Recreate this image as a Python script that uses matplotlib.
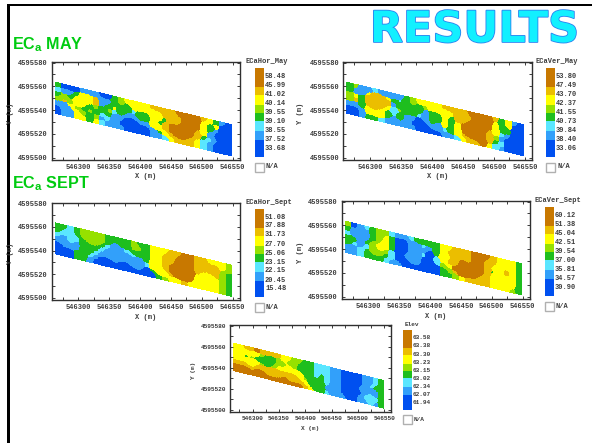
import numpy as np
import matplotlib
matplotlib.use("Agg")
import matplotlib.pyplot as plt
from matplotlib.colors import ListedColormap, BoundaryNorm
from matplotlib.patches import Rectangle
import matplotlib.patheffects as pe

W, H = 592, 443

class_colors = ["#0050f0", "#32a0fa", "#5ae6ff", "#1ebe1e", "#96e100", "#ffff00", "#ebbe00", "#c87800"]

# class index along the strip, top row first
ec_hor_may = [
    [3,0,0,0,1,1,1,0,0,3,4,5,5,5,5,6,6,6,6,7,7,7,7,6,5,3,1,0],
    [2,1,1,3,5,5,6,1,1,3,4,3,5,5,5,5,5,6,6,6,7,7,7,5,3,5,0,0],
    [3,4,3,5,6,5,6,1,3,5,3,3,2,3,3,5,5,3,6,6,7,7,7,5,3,1,0,0],
    [4,6,4,5,5,3,4,3,4,2,3,1,1,3,3,5,3,6,7,7,7,7,6,5,1,0,0,0],
    [1,1,5,4,3,4,3,2,3,1,1,0,0,1,1,5,5,6,7,7,7,7,6,3,2,1,0,0],
    [0,1,1,5,4,3,4,1,2,1,0,0,0,0,0,1,3,5,6,7,7,6,5,2,1,0,0,0],
    [0,1,1,5,5,3,5,2,1,1,1,0,0,0,0,1,1,2,5,6,6,6,5,2,1,0,0,0],
]
ec_ver_may = [
    [3,4,1,1,2,1,1,1,1,3,4,5,5,5,5,6,6,6,6,7,7,7,7,6,3,5,1,0],
    [3,1,1,5,6,6,5,3,2,3,4,3,4,5,5,5,5,6,6,6,7,7,7,5,3,5,0,0],
    [4,5,3,6,6,6,6,1,3,5,3,3,1,3,3,5,3,6,6,7,7,7,7,5,3,3,0,0],
    [4,6,3,6,6,6,5,2,4,3,3,2,1,3,3,5,3,5,7,7,7,7,6,5,2,1,0,0],
    [1,1,3,5,6,5,3,2,3,1,1,0,1,3,1,5,3,5,7,7,7,7,6,4,1,0,0,0],
    [0,0,1,5,5,5,3,1,3,1,0,0,0,1,1,2,3,5,6,7,7,7,6,3,2,0,0,0],
    [0,0,1,3,3,2,1,1,1,1,1,0,0,0,0,1,1,2,5,6,6,7,5,2,1,0,0,0],
]
ec_hor_sept = [
    [3,3,2,3,4,4,4,4,3,3,3,3,4,3,3,5,5,5,6,6,7,7,6,6,5,5,5,4],
    [3,2,2,3,4,4,4,4,3,1,3,3,4,4,3,5,5,6,6,7,7,7,6,6,6,6,5,4],
    [2,1,2,2,3,4,4,3,2,1,1,2,3,3,3,5,5,6,6,7,7,7,6,6,6,6,4,3],
    [1,1,2,1,3,3,3,2,1,1,2,1,2,1,3,5,5,6,7,7,7,7,6,5,5,6,4,3],
    [0,1,1,1,3,3,2,1,1,1,1,1,1,1,2,5,5,6,7,7,7,7,5,3,5,5,4,3],
    [0,0,0,3,3,2,1,0,0,1,0,0,1,1,0,3,5,5,6,7,7,7,5,5,5,5,4,3],
    [0,0,0,3,3,1,0,0,0,0,0,0,0,0,0,0,3,4,5,5,6,5,5,5,5,5,4,3],
]
ec_ver_sept = [
    [4,0,1,2,3,4,4,2,1,1,2,3,3,3,3,5,5,6,6,6,7,7,7,6,5,5,5,3],
    [3,1,0,1,3,4,5,3,0,0,1,1,2,1,3,5,6,6,6,6,7,7,6,6,5,5,5,3],
    [2,1,1,1,3,4,5,3,0,0,1,2,1,0,3,5,5,6,7,6,7,7,6,5,5,6,5,3],
    [3,3,1,3,4,5,5,3,0,0,1,1,2,0,2,5,6,6,7,7,7,7,6,3,5,6,5,3],
    [3,2,1,2,4,5,4,2,0,1,2,1,0,0,2,4,5,7,7,7,7,7,6,5,5,5,5,3],
    [1,1,2,3,4,4,3,2,0,0,1,1,0,0,0,3,4,6,7,7,7,6,6,5,5,5,5,3],
    [1,1,2,3,3,3,2,1,1,0,0,0,0,0,0,3,3,4,5,6,6,6,6,5,5,5,4,3],
]
elev = [
    [5,5,6,6,7,6,6,6,6,5,5,4,4,3,3,2,2,2,1,1,0,0,0,0,1,1,2,3],
    [5,5,5,5,5,4,3,3,4,5,4,4,3,3,3,2,2,2,1,1,0,0,0,0,1,1,2,3],
    [5,4,3,4,3,3,3,3,4,4,5,4,3,3,3,2,3,2,1,1,0,0,0,0,1,2,3,3],
    [5,5,5,5,5,4,3,4,5,5,5,5,5,3,3,2,3,2,1,1,0,0,0,1,1,1,1,3],
    [6,6,6,5,6,6,6,6,6,6,6,6,5,4,3,3,3,2,1,1,0,0,0,0,1,2,1,3],
    [7,7,7,6,7,7,6,6,6,7,6,6,6,5,3,3,3,1,1,1,0,0,0,1,2,2,2,3],
    [7,7,7,7,7,7,7,7,7,7,7,7,7,6,5,3,3,2,1,1,1,0,0,1,1,2,1,3],
]

labels_hor_may = ["58.48","45.99","41.02","40.14","39.55","39.10","38.55","37.52","33.68"]
labels_ver_may = ["53.80","47.49","43.70","42.37","41.55","40.73","39.84","38.40","33.06"]
labels_hor_sept = ["51.08","37.88","31.73","27.70","25.06","23.15","22.15","20.45","15.48"]
labels_ver_sept = ["60.12","51.38","45.04","42.51","39.54","37.00","35.81","34.57","30.90"]
labels_elev = ["63.58","63.38","63.30","63.23","63.15","63.02","62.34","62.07","61.94"]

x_ticks = [546300, 546350, 546400, 546450, 546500, 546550]
y_ticks = [4595500, 4595520, 4595540, 4595560, 4595580]

# strip outline in map units
strip_x = [546262, 546549]
strip_bottom = [4595537, 4595501]
strip_depth = 27

cmap = ListedColormap(class_colors)
norm = BoundaryNorm(np.arange(-0.5, 8.5), 8)
mono = "Liberation Mono"
ink = "#3c3c3c"

plt.rcParams["mathtext.fontset"] = "custom"
plt.rcParams["mathtext.bf"] = "Liberation Sans:bold"
plt.rcParams["mathtext.rm"] = "Liberation Sans:bold"

fig = plt.figure(figsize=(W / 100, H / 100), dpi=100, facecolor="white")


def box(x0, y0, x1, y1):
    # pixel box from the top left -> figure fractions
    return [x0 / W, 1 - y1 / H, (x1 - x0) / W, (y1 - y0) / H]


def rounded_classes(grid, k=8, sigma=0.55):
    # round off the class cells into blobs: blur each class mask, keep the strongest
    z = np.repeat(np.repeat(np.array(grid)[::-1], k, axis=0), k, axis=1)
    r = int(3 * sigma * k)
    g = np.exp(-0.5 * (np.arange(-r, r + 1) / (sigma * k)) ** 2)
    g /= g.sum()
    layers = []
    for c in range(8):
        m = np.pad((z == c).astype(float), r, mode="edge")
        m = np.apply_along_axis(lambda a: np.convolve(a, g, mode="same"), 0, m)
        m = np.apply_along_axis(lambda a: np.convolve(a, g, mode="same"), 1, m)
        layers.append(m[r:-r, r:-r])
    return np.argmax(layers, axis=0)


def panel(grid, labels, name, rect, bar_x, ylabel_x, fs=5.0, scale=1.0, name_dx=-10):
    ax = fig.add_axes(box(*rect))
    z = rounded_classes(grid)
    uu, vv = np.meshgrid(np.linspace(0, 1, z.shape[1] + 1), np.linspace(0, 1, z.shape[0] + 1))
    xx = strip_x[0] + uu * (strip_x[1] - strip_x[0])
    yy = strip_bottom[0] + uu * (strip_bottom[1] - strip_bottom[0]) + vv * strip_depth
    ax.pcolormesh(xx, yy, z, cmap=cmap, norm=norm, shading="flat", rasterized=True)
    ax.set_xlim(546257, 546562)
    ax.set_ylim(4595498, 4595580.5)
    ax.set_xticks(x_ticks)
    ax.set_yticks(y_ticks)
    ax.set_yticks(np.arange(4595510, 4595580, 20), minor=True)
    ax.set_xticks(np.arange(546275, 546550, 50), minor=True)
    ax.tick_params(which="both", direction="in", top=True, right=True, length=2, width=0.7, color=ink, pad=3,
                   labelsize=fs, labelcolor=ink)
    ax.xaxis.set_major_formatter(lambda v, p: "%d" % v)
    ax.yaxis.set_major_formatter(lambda v, p: "%d" % v)
    for lab in ax.get_xticklabels() + ax.get_yticklabels():
        lab.set_family(mono)
        lab.set_weight("bold")
    for s in ax.spines.values():
        s.set_linewidth(1.0)
        s.set_color("#303030")

    top, bottom = rect[1], rect[3]
    mid = (rect[0] + rect[2]) / 2
    fig.text(mid / W, 1 - (bottom + 17) / H, "X (m)", family=mono, weight="bold", size=fs, color=ink,
             ha="center", va="center")
    fig.text(ylabel_x / W, 1 - (top + bottom) / 2 / H - 0.005, "Y (m)", family=mono, weight="bold", size=fs, color=ink,
             rotation=90, ha="center", va="center")

    # class legend: bands run between the labels, with longer end bands
    bx = bar_x
    fig.text((bx + name_dx) / W, 1 - (top - 0.5) / H, name, family=mono, weight="bold", size=fs, color=ink,
             ha="left", va="center")
    cax = fig.add_axes(box(bx, top + 6 * scale, bx + 9, top + 94.5 * scale))
    edges = [0, 19, 27, 37, 45, 53, 63, 72, 88.5]
    for i in range(8):
        cax.axhspan(edges[i], edges[i + 1], color=class_colors[7 - i], lw=0)
    cax.set_ylim(88.5, 0)
    cax.set_xlim(0, 1)
    cax.axis("off")
    for i, t in enumerate(labels):
        fig.text((bx + 10) / W, 1 - (top + (14.3 + i * 9) * scale) / H,
                 t, family=mono, weight="bold", size=fs, color=ink, ha="left", va="center")
    ny = top + 105 * scale
    fig.add_artist(Rectangle((bx / W, 1 - (ny + 4.5) / H), 9 / W, 9 / H, transform=fig.transFigure,
                             fc="white", ec="#b0b0b0", lw=1.0))
    fig.text((bx + 11) / W, 1 - ny / H, "N/A", family=mono, weight="bold", size=fs, color=ink, ha="left", va="center")
    return ax


panel(ec_hor_may, labels_hor_may, "ECaHor_May", (51.7, 62, 240, 160), 255, 10.5)
panel(ec_ver_may, labels_ver_may, "ECaVer_May", (343.3, 62, 532.3, 160), 546, 301)
panel(ec_hor_sept, labels_hor_sept, "ECaHor_Sept", (51.7, 202.7, 240, 300.3), 255, 10.5)
panel(ec_ver_sept, labels_ver_sept, "ECaVer_Sept", (341.7, 201, 530, 299), 544.5, 300.5)
panel(elev, labels_elev, "Elev", (230, 325, 390.7, 411.7), 402.5, 193.5, fs=4.4, scale=0.9, name_dx=2.5)

# slide frame
fig.add_artist(Rectangle((7 / W, 0), 2.6 / W, 1 - 4 / H, transform=fig.transFigure, fc="black", ec="none"))
fig.add_artist(Rectangle((7 / W, 1 - 6 / H), 1, 2.4 / H, transform=fig.transFigure, fc="black", ec="none"))

for txt, y in [(r"$\mathbf{EC_a}$ MAY", 45), (r"$\mathbf{EC_a}$ SEPT", 184)]:
    fig.text(12.5 / W, 1 - y / H, txt, family="Liberation Sans", weight="bold", size=11.6, color="#00cc11",
             ha="left", va="center")

title = fig.text(474.5 / W, 1 - 30 / H, "RESULTS", family="DejaVu Sans", weight="bold", size=31, color="#12f0ff",
                 ha="center", va="center")
title.set_path_effects([pe.withStroke(linewidth=1.2, foreground="#2a80f0")])

fig.savefig("out.png", dpi=100)
